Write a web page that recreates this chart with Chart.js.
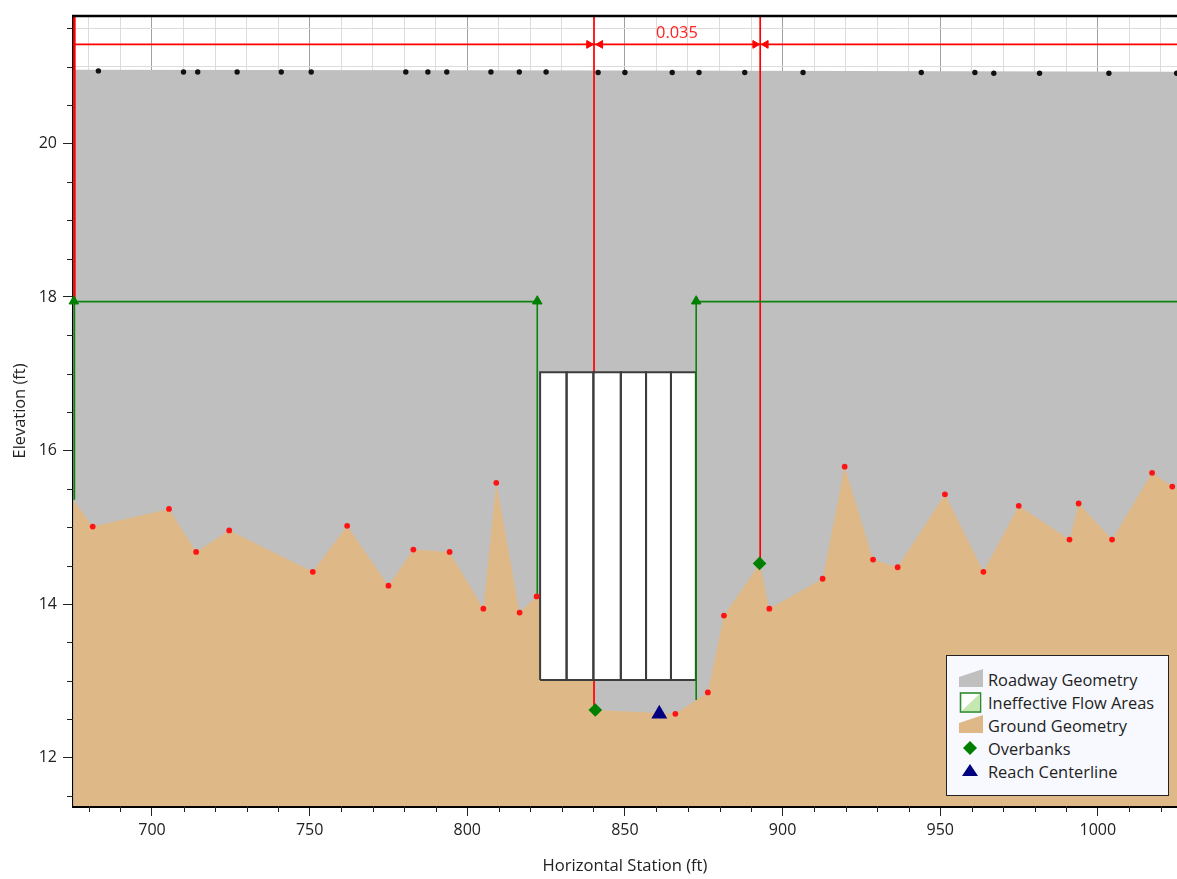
<!DOCTYPE html>
<html>
<head>
<meta charset="utf-8">
<script src="https://cdn.jsdelivr.net/npm/chart.js@4"></script>
<style>
html, body { margin: 0; padding: 0; background: #fff; overflow: hidden; }
#wrap { position: relative; width: 1177px; height: 879px; }
#legend {
    position: absolute; left: 946px; top: 655px; width: 221px; height: 127px;
    background: #f8f9ff; border: 1px solid #222;
    font: 16.4px "Open Sans", sans-serif; color: #222; padding-top: 12px;
}
#legend div { height: 23.1px; line-height: 23px; white-space: nowrap; position: relative; padding-left: 41px; }
#legend svg { position: absolute; left: 11px; top: 0; }
</style>
</head>
<body>
<div id="wrap">
<canvas id="roadChart" width="1177" height="879"></canvas>
<div id="legend">
    <div><svg width="26" height="23"><polygon points="1,19 1,9 25,1 25,19" fill="#c0c0c0"/></svg>Roadway Geometry</div>
    <div><svg width="26" height="23"><rect x="2.5" y="2" width="20" height="19" fill="#fff" stroke="#2e8b2e" stroke-width="1.6"/><polygon points="3.5,20 21.5,3 21.5,20" fill="#c5e8b0"/></svg>Ineffective Flow Areas</div>
    <div><svg width="26" height="23"><polygon points="1,19 1,9 25,1 25,19" fill="#deb887"/></svg>Ground Geometry</div>
    <div><svg width="26" height="23"><polygon points="12,4 19,11 12,18 5,11" fill="#008000"/></svg>Overbanks</div>
    <div><svg width="26" height="23"><polygon points="12,4 20,16 4,16" fill="#000080"/></svg>Reach Centerline</div>
</div>
</div>
<script>
// axis range
const xMin = 674.95, xMax = 1025.1;
const yMin = 11.37, yMax = 21.66;

// Ground geometry
const groundStation = [675, 681.2, 705.4, 714, 724.5, 751, 761.9, 775, 782.9, 794.4, 805.1, 809.2, 816.6, 822, 840, 840.6, 861, 866, 876.3, 881.4, 892.8, 895.8, 912.7, 919.7, 928.7, 936.5, 951.5, 963.7, 974.9, 991, 993.9, 1004.5, 1017.2, 1023.6, 1025.1];
const groundElev = [15.36, 15.01, 15.24, 14.68, 14.96, 14.42, 15.02, 14.24, 14.71, 14.68, 13.94, 15.58, 13.89, 14.10, 13.1, 12.62, 12.58, 12.57, 12.85, 13.85, 14.53, 13.94, 14.33, 15.79, 14.58, 14.48, 15.43, 14.42, 15.28, 14.84, 15.31, 14.84, 15.71, 15.53, 15.5];

// Ground survey points (red dots)
const surveyStation = [681.2, 705.4, 714, 724.5, 751, 761.9, 775, 782.9, 794.4, 805.1, 809.2, 816.6, 822, 866, 876.3, 881.4, 895.8, 912.7, 919.7, 928.7, 936.5, 951.5, 963.7, 974.9, 991, 993.9, 1004.5, 1017.2, 1023.6];
const surveyElev = [15.01, 15.24, 14.68, 14.96, 14.42, 15.02, 14.24, 14.71, 14.68, 13.94, 15.58, 13.89, 14.10, 12.57, 12.85, 13.85, 13.94, 14.33, 15.79, 14.58, 14.48, 15.43, 14.42, 15.28, 14.84, 15.31, 14.84, 15.71, 15.53];

// Roadway geometry
const roadTopStation = [675, 850, 1025.1];
const roadTopElev = [20.96, 20.95, 20.935];
const roadStation = [683, 710, 714.5, 727, 741, 750.5, 780.5, 787.5, 793.5, 807.5, 816.5, 825, 841.5, 850, 865, 873.5, 888, 906.5, 944, 961, 967, 981.5, 1003.5, 1025];
const roadElev = [20.945, 20.93, 20.93, 20.93, 20.93, 20.93, 20.93, 20.93, 20.93, 20.93, 20.93, 20.93, 20.925, 20.925, 20.925, 20.925, 20.925, 20.925, 20.925, 20.925, 20.915, 20.915, 20.915, 20.915];

// Culvert openings
const culvertLeft = [823.1, 831.5, 840, 848.7, 856.7, 864.6];
const culvertRight = [831.5, 840, 848.7, 856.7, 864.6, 872.5];
const culvertBottom = 13.01, culvertTop = 17.02;

// Ineffective flow areas
const ineffElev = 17.94;
const ineffLeftX = [675.4, 675.4, 822.2, 822.2];
const ineffLeftY = [15.36, 17.94, 17.94, 14.1];
const ineffRightX = [872.6, 872.6, 1025.1];
const ineffRightY = [12.75, 17.94, 17.94];
const ineffMarkX = [675.2, 822.2, 872.6];
const ineffMarkY = 17.945;

// Manning n regions
const nStations = [675.4, 840.2, 892.9];
const nBottoms = [17.94, 12.64, 14.53];
const nLineElev = 21.29;
const nLabel = '0.035';
const nLabelStation = 866.5;
const nLabelElev = 21.44;
const arrowStation = [838.6, 842.2, 891.3, 894.7];
const arrowAngle = [90, -90, 90, -90];

// Overbanks and reach centerline
const bankStation = [840.6, 892.7];
const bankElev = [12.62, 14.53];
const centerStation = [860.9];
const centerElev = [12.57];

const xTitle = 'Horizontal Station (ft)';
const yTitle = 'Elevation (ft)';

function zip(xs, ys) {
    return xs.map(function (x, i) { return { x: x, y: ys[i] }; });
}

var datasets = [];

datasets.push({
    data: zip(roadTopStation, roadTopElev), showLine: true, pointRadius: 0, borderWidth: 0,
    borderColor: '#bfbfbf', backgroundColor: '#bfbfbf', fill: 'start', order: 20
});
datasets.push({
    data: zip(groundStation, groundElev), showLine: true, pointRadius: 0, borderWidth: 0,
    borderColor: '#deb887', backgroundColor: '#deb887', fill: 'start', order: 19
});

// red n value lines
nStations.forEach(function (s, i) {
    datasets.push({
        data: [{ x: s, y: yMax }, { x: s, y: nBottoms[i] }], showLine: true, pointRadius: 0,
        borderColor: '#ff0000', borderWidth: i == 0 ? 2.5 : 1.7, fill: false, order: 15
    });
});

// culverts, white part first and the outline on top
culvertLeft.forEach(function (l, i) {
    var r = culvertRight[i];
    datasets.push({
        data: [{ x: l, y: culvertTop }, { x: r, y: culvertTop }],
        showLine: true, pointRadius: 0, borderWidth: 0,
        backgroundColor: '#ffffff', fill: { target: { value: culvertBottom } }, order: 13
    });
    datasets.push({
        data: [{ x: l, y: culvertBottom }, { x: l, y: culvertTop }, { x: r, y: culvertTop }, { x: r, y: culvertBottom }, { x: l, y: culvertBottom }],
        showLine: true, pointRadius: 0, borderColor: '#3c3c3c', borderWidth: 2, fill: false, order: 12
    });
});

datasets.push({
    data: [{ x: xMin, y: nLineElev }, { x: xMax, y: nLineElev }], showLine: true, pointRadius: 0,
    borderColor: '#ff0000', borderWidth: 1.7, fill: false, order: 11
});
datasets.push({
    data: arrowStation.map(function (s) { return { x: s, y: nLineElev }; }), showLine: false,
    pointStyle: 'triangle', pointRadius: 4.5, pointRotation: arrowAngle,
    backgroundColor: '#ff0000', borderColor: '#ff0000', order: 10
});

// ineffective flow
datasets.push({ data: zip(ineffLeftX, ineffLeftY), showLine: true, pointRadius: 0, borderColor: '#0a840a', borderWidth: 1.6, fill: false, order: 9 });
datasets.push({ data: zip(ineffRightX, ineffRightY), showLine: true, pointRadius: 0, borderColor: '#0a840a', borderWidth: 1.6, fill: false, order: 9 });
datasets.push({
    data: ineffMarkX.map(function (s) { return { x: s, y: ineffMarkY }; }), showLine: false, clip: false,
    pointStyle: 'triangle', pointRadius: 5.5, backgroundColor: '#008000', borderColor: '#008000', order: 8
});

// points
datasets.push({ data: zip(surveyStation, surveyElev), showLine: false, pointRadius: 2.9, borderWidth: 0, backgroundColor: '#ff1414', order: 7 });
datasets.push({ data: zip(roadStation, roadElev), showLine: false, pointRadius: 2.7, borderWidth: 0, backgroundColor: '#111', order: 6 });
datasets.push({ data: zip(bankStation, bankElev), showLine: false, pointStyle: 'rectRot', pointRadius: 6.8, borderWidth: 0, backgroundColor: '#008000', order: 5 });
datasets.push({ data: zip(centerStation, centerElev), showLine: false, pointStyle: 'triangle', pointRadius: 9.2, borderWidth: 0, backgroundColor: '#000080', order: 5 });

// short ticks, top frame line and the n value label
const extras = {
    id: 'extras',
    afterDraw: function (chart) {
        var c = chart.ctx, a = chart.chartArea, sx = chart.scales.x, sy = chart.scales.y;
        c.save();
        c.strokeStyle = '#222';
        c.lineWidth = 1;
        c.beginPath();
        sx.ticks.forEach(function (t) {
            if (t.value % 50 != 0) {
                var p = Math.round(sx.getPixelForValue(t.value)) + 0.5;
                c.moveTo(p, a.bottom); c.lineTo(p, a.bottom + 6);
            }
        });
        sy.ticks.forEach(function (t) {
            if (t.value % 2 != 0) {
                var p = Math.round(sy.getPixelForValue(t.value)) + 0.5;
                c.moveTo(a.left, p); c.lineTo(a.left - 6, p);
            }
        });
        c.stroke();

        c.strokeStyle = '#000';
        c.lineWidth = 2.5;
        c.beginPath();
        c.moveTo(a.left - 1, a.top);
        c.lineTo(a.right, a.top);
        c.stroke();

        c.fillStyle = '#ff2020';
        c.font = '16.4px "Open Sans", sans-serif';
        c.textAlign = 'center';
        c.textBaseline = 'middle';
        c.fillText(nLabel, sx.getPixelForValue(nLabelStation), sy.getPixelForValue(nLabelElev));
        c.restore();
    }
};

Chart.defaults.font.family = '"Open Sans", sans-serif';
Chart.defaults.font.size = 16;
Chart.defaults.color = '#222';

const roadChart = new Chart(document.getElementById('roadChart'), {
    type: 'scatter',
    data: { datasets: datasets },
    plugins: [extras],
    options: {
        responsive: false,
        animation: false,
        layout: { autoPadding: false, padding: { top: 16, right: 0, left: 0, bottom: 0 } },
        plugins: { legend: { display: false }, tooltip: { enabled: false } },
        scales: {
            x: {
                type: 'linear', min: xMin, max: xMax,
                afterFit: function (s) { s.height = 73; },
                border: { color: '#000', width: 3 },
                grid: {
                    tickLength: 10,
                    color: function (c) { return c.tick && c.tick.value % 50 == 0 ? '#a0a0a0' : '#dcdcdc'; },
                    tickColor: function (c) { return c.tick && c.tick.value % 50 == 0 ? '#222' : 'rgba(0,0,0,0)'; }
                },
                ticks: {
                    stepSize: 10, includeBounds: false, autoSkip: false, maxRotation: 0, padding: 5,
                    callback: function (v) { return v % 50 == 0 ? String(v) : ''; }
                },
                title: { display: true, text: xTitle, padding: { top: 0, bottom: 3 }, font: { size: 16.6 } }
            },
            y: {
                type: 'linear', min: yMin, max: yMax,
                afterFit: function (s) { s.width = 73; },
                border: { color: '#000', width: 3 },
                grid: {
                    tickLength: 10,
                    color: '#dcdcdc',
                    tickColor: function (c) { return c.tick && c.tick.value % 2 == 0 ? '#222' : 'rgba(0,0,0,0)'; }
                },
                ticks: {
                    stepSize: 0.5, includeBounds: false, autoSkip: false, padding: 6,
                    callback: function (v) { return v % 2 == 0 ? String(v) : ''; }
                },
                title: { display: true, text: yTitle, padding: { top: 10, bottom: 0 }, font: { size: 16.4 } }
            }
        }
    }
});
</script>
</body>
</html>
